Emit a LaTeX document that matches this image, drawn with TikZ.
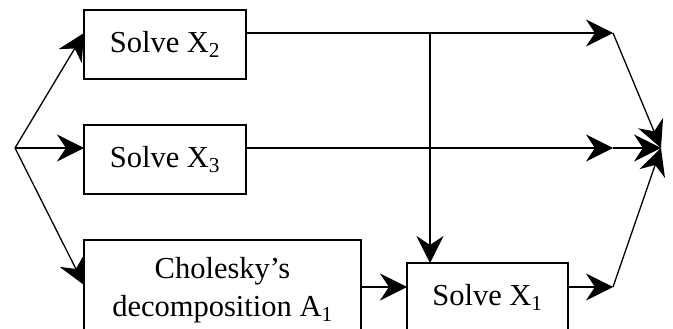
\documentclass[tikz,border=0pt]{standalone}
\usepackage{fontspec}
\setmainfont{Liberation Serif}
\usetikzlibrary{arrows.meta}
\begin{document}
\begin{tikzpicture}[x=1pt,y=-1pt,
  box/.style={draw,line width=1.3pt,inner sep=0pt,align=center,font=\fontsize{30.5}{38}\selectfont},
  arr/.style={line width=1.3pt,-{Stealth[length=27pt,width=27pt,inset=9pt]}},
  ln/.style={line width=1.3pt}]
\useasboundingbox (0,0) rectangle (673,329);
\clip (0,0) rectangle (673,329);
\node[box,minimum width=162pt,minimum height=69pt] (x2) at (165,44.5) {Solve X\textsubscript{2}};
\node[box,minimum width=162pt,minimum height=69pt] (x3) at (165,159.5) {Solve X\textsubscript{3}};
\node[box,minimum width=277pt,minimum height=100pt] (ch) at (222.5,290) {Cholesky’s\\decomposition A\textsubscript{1}};
\node[box,minimum width=161pt,minimum height=69pt] (x1) at (487.5,297.5) {Solve X\textsubscript{1}};
\coordinate (src) at (15,148);
\coordinate (x2in) at (84,33);
\coordinate (x3in) at (84,148);
\coordinate (chin) at (84,285);
\coordinate (x2out) at (246,33);
\coordinate (x3out) at (246,148);
\coordinate (chout) at (361,287);
\coordinate (x1in) at (407,287);
\coordinate (x1out) at (568,287);
\coordinate (x1top) at (430,263);
\coordinate (jt) at (430,33);
\coordinate (a2) at (613,33);
\coordinate (a3) at (613,148);
\coordinate (a1) at (613,287);
\coordinate (sink) at (661,148);
\draw[arr] (src) -- (x2in);
\draw[arr] (src) -- (x3in);
\draw[arr] (src) -- (chin);
\draw[arr] (x2out) -- (a2);
\draw[arr] (x3out) -- (a3);
\draw[arr] (jt) -- (x1top);
\draw[arr] (chout) -- (x1in);
\draw[arr] (x1out) -- (a1);
\draw[arr] (a2) -- (sink);
\draw[arr] (a3) -- (sink);
\draw[arr] (a1) -- (sink);
\end{tikzpicture}
\end{document}
